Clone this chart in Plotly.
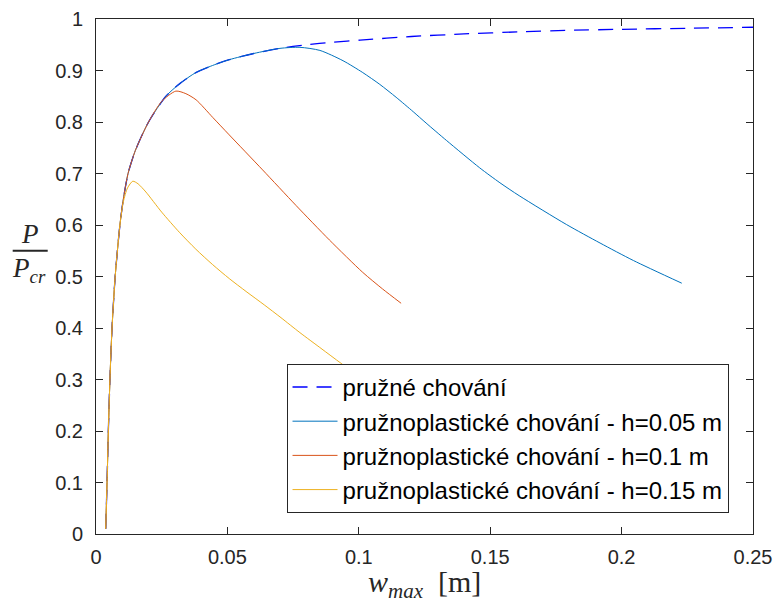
import plotly.graph_objects as go

# Elastic behaviour (dashed)
w_el = [0.0037, 0.0042, 0.0047, 0.0053, 0.0061, 0.0073, 0.0091, 0.0104, 0.0122, 0.0150,
        0.0200, 0.0266, 0.0320, 0.0380, 0.0450, 0.0507, 0.0600, 0.0700, 0.0800, 0.0900,
        0.1005, 0.1200, 0.1400, 0.1610, 0.1800, 0.2000, 0.2250, 0.2500]
p_el = [0.01, 0.10, 0.20, 0.30, 0.40, 0.50, 0.60, 0.65, 0.70, 0.745,
        0.80, 0.85, 0.875, 0.896, 0.911, 0.921, 0.933, 0.943, 0.950, 0.955,
        0.959, 0.966, 0.971, 0.975, 0.978, 0.980, 0.982, 0.984]

# Elasto-plastic, h = 0.05 m
w_h005 = [0.0037, 0.0042, 0.0047, 0.0053, 0.0061, 0.0073, 0.0091, 0.0104, 0.0122, 0.0150,
          0.0200, 0.0266, 0.0320, 0.0380, 0.0450, 0.0507, 0.0600, 0.0700, 0.0776, 0.0852,
          0.0940, 0.1015, 0.1080, 0.1142, 0.1207, 0.1256, 0.1334, 0.1460, 0.1537, 0.1610,
          0.1790, 0.1918, 0.2045, 0.2229]
p_h005 = [0.01, 0.10, 0.20, 0.30, 0.40, 0.50, 0.60, 0.65, 0.70, 0.745,
          0.80, 0.85, 0.875, 0.896, 0.911, 0.921, 0.933, 0.943, 0.945, 0.939,
          0.919, 0.896, 0.873, 0.848, 0.820, 0.798, 0.764, 0.711, 0.682, 0.657,
          0.601, 0.565, 0.531, 0.487]

# Elasto-plastic, h = 0.1 m
w_h010 = [0.0037, 0.0042, 0.0047, 0.0053, 0.0061, 0.0073, 0.0091, 0.0104, 0.0122, 0.0150,
          0.0200, 0.0250, 0.0304, 0.0342, 0.0381, 0.0444, 0.0507, 0.0634, 0.0761, 0.0888,
          0.1015, 0.1090, 0.1161]
p_h010 = [0.01, 0.10, 0.20, 0.30, 0.40, 0.50, 0.60, 0.65, 0.70, 0.745,
          0.80, 0.840, 0.860, 0.855, 0.843, 0.809, 0.775, 0.707, 0.638, 0.571,
          0.508, 0.476, 0.448]

# Elasto-plastic, h = 0.15 m
w_h015 = [0.0037, 0.0042, 0.0047, 0.0053, 0.0061, 0.0073, 0.0091, 0.0104, 0.0120, 0.0140,
          0.0160, 0.0190, 0.0250, 0.0317, 0.0380, 0.0444, 0.0507, 0.0571, 0.0640, 0.0704,
          0.0776, 0.0860, 0.0944]
p_h015 = [0.01, 0.10, 0.20, 0.30, 0.40, 0.50, 0.60, 0.645, 0.672, 0.685,
          0.680, 0.664, 0.625, 0.586, 0.553, 0.523, 0.496, 0.471, 0.445, 0.420,
          0.391, 0.359, 0.327]

names = ["pružné chování",
         "pružnoplastické chování - h=0.05 m",
         "pružnoplastické chování - h=0.1 m",
         "pružnoplastické chování - h=0.15 m"]

x_ticks = [0, 0.05, 0.1, 0.15, 0.2, 0.25]
y_ticks = [0, 0.1, 0.2, 0.3, 0.4, 0.5, 0.6, 0.7, 0.8, 0.9, 1]

fig = go.Figure()
fig.add_trace(go.Scatter(x=w_el, y=p_el, mode="lines", name=names[0],
                         line=dict(color="#0000FF", width=1.3, dash="15px,9px",
                                   shape="spline", smoothing=0.7)))
fig.add_trace(go.Scatter(x=w_h005, y=p_h005, mode="lines", name=names[1],
                         line=dict(color="#0072BD", width=1, shape="spline", smoothing=0.7)))
fig.add_trace(go.Scatter(x=w_h010, y=p_h010, mode="lines", name=names[2],
                         line=dict(color="#D95319", width=1, shape="spline", smoothing=0.7)))
fig.add_trace(go.Scatter(x=w_h015, y=p_h015, mode="lines", name=names[3],
                         line=dict(color="#EDB120", width=1, shape="spline", smoothing=0.7)))

axis_common = dict(showgrid=False, zeroline=False, showline=True, mirror="ticks",
                   linecolor="#262626", linewidth=1, ticks="inside", ticklen=7,
                   tickwidth=1, tickcolor="#262626", automargin=False,
                   tickfont=dict(family="Liberation Sans, Arial", size=20, color="#262626"))

fig.update_xaxes(range=[0, 0.25], tickvals=x_ticks,
                 ticktext=[f"{v:g}" for v in x_ticks], ticklabelstandoff=5, **axis_common)
fig.update_yaxes(range=[0, 1], tickvals=y_ticks,
                 ticktext=[f"{v:g}" for v in y_ticks], ticklabelstandoff=8, **axis_common)

serif = "Liberation Serif, Times New Roman, serif"
fig.add_annotation(xref="paper", yref="paper", x=-0.1005, y=0.582, text="<i>P</i>",
                   showarrow=False, font=dict(family=serif, size=27, color="#262626"),
                   xanchor="center", yanchor="middle")
fig.add_annotation(xref="paper", yref="paper", x=-0.102, y=0.512,
                   text="<i>P</i><sub><i>cr</i></sub>",
                   showarrow=False, font=dict(family=serif, size=27, color="#262626"),
                   xanchor="center", yanchor="middle")
fig.add_shape(type="line", xref="paper", yref="paper", x0=-0.1268, x1=-0.0735,
              y0=0.550, y1=0.550, line=dict(color="#262626", width=2))
fig.add_annotation(xref="paper", yref="paper", x=0.5, y=-0.098,
                   text="<i>w</i><sub><i>max</i></sub>&nbsp;&nbsp;[m]",
                   showarrow=False, font=dict(family=serif, size=30, color="#262626"),
                   xanchor="center", yanchor="middle")

fig.update_layout(
    width=774, height=606, autosize=False,
    margin=dict(l=96, r=21, t=19, b=72),
    plot_bgcolor="white", paper_bgcolor="white",
    legend=dict(x=0.29, y=0.041, xanchor="left", yanchor="bottom",
                bgcolor="white", bordercolor="#262626", borderwidth=1,
                font=dict(family="Liberation Sans, Arial", size=24, color="black"),
                itemwidth=45, tracegroupgap=0),
    showlegend=True,
)

fig.write_html("out.html")
